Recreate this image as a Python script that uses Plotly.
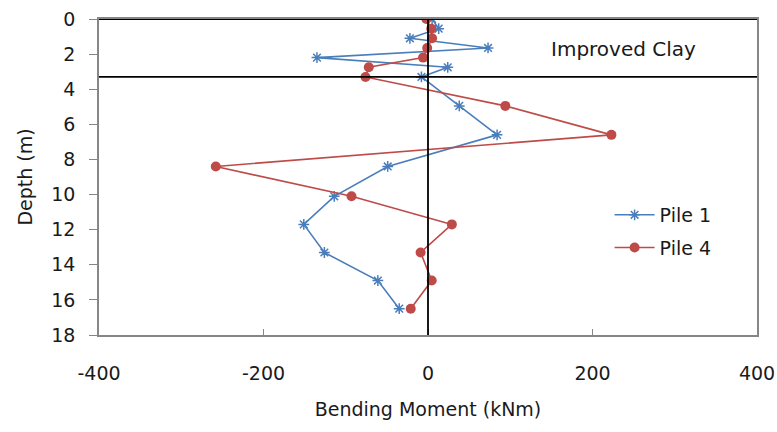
import plotly.graph_objects as go

depth = [0, 0.55, 1.1, 1.65, 2.2, 2.75, 3.3, 4.95, 6.6, 8.4, 10.1, 11.7, 13.3, 14.9, 16.5]
pile1 = [5, 13, -22, 73, -135, 24, -8, 38, 84, -49, -114, -151, -126, -61, -35]
pile4 = [-2, 4, 5, -1, -6, -72, -76, 94, 223, -258, -93, 29, -9, 4.5, -21]

improved_clay_depth = 3.3
x_ticks = [-400, -200, 0, 200, 400]
y_ticks = [0, 2, 4, 6, 8, 10, 12, 14, 16, 18]

FONT = "DejaVu Sans"
FS = 19
TXT = "#1a1a1a"
BLUE = "#4A7EBB"
RED = "#BE4B48"
GRAY = "#868686"

fig = go.Figure()
fig.add_trace(go.Scatter(
    x=pile1, y=depth, name="Pile 1", mode="lines+markers", legendgroup="p1",
    line=dict(color=BLUE, width=1.6),
    marker=dict(symbol="asterisk-open", size=9, color=BLUE, line=dict(color=BLUE, width=1.5)),
))
fig.add_trace(go.Scatter(
    x=pile4, y=depth, name="Pile 4", mode="lines+markers", legendgroup="p4",
    line=dict(color=RED, width=1.6),
    marker=dict(symbol="circle", size=10, color=RED),
))

# reference lines
fig.add_shape(type="line", xref="x", yref="y", x0=-400, x1=400, y0=0, y1=0,
              line=dict(color="black", width=1.8), layer="above")
fig.add_shape(type="line", xref="x", yref="y", x0=-400, x1=400,
              y0=improved_clay_depth, y1=improved_clay_depth,
              line=dict(color="black", width=1.8), layer="above")
fig.add_shape(type="line", xref="x", yref="y", x0=0, x1=0, y0=0, y1=18,
              line=dict(color="black", width=1.8), layer="above")

fig.add_annotation(x=238, y=1.7, xref="x", yref="y", text="Improved Clay",
                   showarrow=False, font=dict(family=FONT, size=20, color=TXT))

fig.update_layout(
    width=777, height=432,
    margin=dict(l=99, r=20, t=19, b=97, autoexpand=False),
    paper_bgcolor="white", plot_bgcolor="white",
    font=dict(family=FONT, size=FS, color=TXT),
    showlegend=True,
    legend=dict(x=0.776, y=0.44, xanchor="left", yanchor="top",
                bgcolor="rgba(0,0,0,0)", font=dict(family=FONT, size=FS, color=TXT),
                tracegroupgap=5, itemwidth=40),
    xaxis=dict(
        range=[-400, 400], tickvals=x_ticks, ticktext=[str(v) for v in x_ticks],
        showgrid=False, zeroline=False, showline=True, linecolor=GRAY, linewidth=1.5,
        mirror=True, ticks="inside", ticklen=6, tickcolor=GRAY, automargin=False,
        ticklabelstandoff=20, ticklabeloverflow="allow",
        title=dict(text="Bending Moment (kNm)", standoff=20, font=dict(family=FONT, size=FS)),
    ),
    yaxis=dict(
        range=[18, 0], tickvals=y_ticks, ticktext=[str(v) for v in y_ticks],
        showgrid=False, zeroline=False, showline=True, linecolor=GRAY, linewidth=1.5,
        mirror=True, ticks="outside", ticklen=8, tickcolor=GRAY, automargin=False,
        ticklabelstandoff=10, ticklabeloverflow="allow",
        title=dict(text="Depth (m)", standoff=14, font=dict(family=FONT, size=FS)),
    ),
)

fig.write_html("out.html", config={"displayModeBar": False},
               post_script="document.body.style.margin='0';document.body.style.overflow='hidden';")
